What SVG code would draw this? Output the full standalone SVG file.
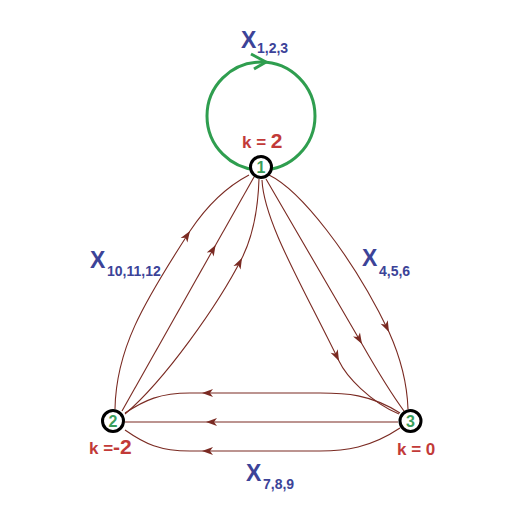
<svg xmlns="http://www.w3.org/2000/svg" xmlns:xlink="http://www.w3.org/1999/xlink" width="510" height="525" viewBox="0 0 510 525">
<style>
.e{fill:none;stroke:#7a2a22;stroke-width:1.1}
.ah{fill:#7a2a22}
.loop{fill:none;stroke:#2f9e4f;stroke-width:3}
.nd{fill:#fff;stroke:#000;stroke-width:3}
.nl{font-family:"Liberation Sans",Arial,sans-serif;font-weight:bold;font-size:16px;fill:#3a9d5a;text-anchor:middle}
.x{font-family:"Liberation Sans",Arial,sans-serif;font-weight:bold;fill:#3c4398}
.xb{font-size:23px}
.xs{font-size:14px}
.k{font-family:"Liberation Sans",Arial,sans-serif;font-weight:bold;fill:#c23a38;font-size:17px}
.kb{font-size:21px}
</style>
<defs>
<path id="ah" d="M0,0 L-11,-4 L-8,0 L-11,4 Z"/>
</defs>
<rect width="510" height="525" fill="#fff"/>
<g id="connectors">
<circle class="loop" cx="261" cy="116" r="54"/>
<polyline class="loop" points="251,54 266,62 254,69" stroke-linejoin="miter"/>
<path class="e" d="M115,409 C116,350 142,305 190,231 C206,207 226,187 249,175"/>
<path class="e" d="M122,411 L254,177"/>
<path class="e" d="M125,414 C165,380 218,305 242,258 C252,238 258,210 259,179"/>
<use href="#ah" class="ah" transform="translate(190,231) rotate(-57)"/>
<use href="#ah" class="ah" transform="translate(215.6,245) rotate(-60.6)"/>
<use href="#ah" class="ah" transform="translate(242,258) rotate(-63)"/>
<path class="e" d="M269,175 C300,190 352,255 389,332 C398,352 407,380 408,409"/>
<path class="e" d="M266,179 L362,344 C374,365 390,392 404,411"/>
<path class="e" d="M262,180 C264,222 302,285 339,361 C346,376 370,402 399,414"/>
<use href="#ah" class="ah" transform="translate(389,332) rotate(64)"/>
<use href="#ah" class="ah" transform="translate(362,344) rotate(60)"/>
<use href="#ah" class="ah" transform="translate(339,361) rotate(64)"/>
<path class="e" d="M400,413 C370,394 345,393 320,393 L190,393 C160,393 145,400 125,413"/>
<path class="e" d="M398,422 L125,422"/>
<path class="e" d="M400,428 C370,448 345,451 320,451 L190,451 C160,451 145,444 125,430"/>
<use href="#ah" class="ah" transform="translate(202,393) rotate(180)"/>
<use href="#ah" class="ah" transform="translate(206,422) rotate(180)"/>
<use href="#ah" class="ah" transform="translate(202,451) rotate(180)"/>
</g>
<g id="node1">
<circle class="nd" cx="261" cy="167" r="10.5"/>
<text class="nl" x="261" y="173">1</text>
<text class="k" x="242" y="148">k = <tspan class="kb">2</tspan></text>
</g>
<g id="node2">
<circle class="nd" cx="113" cy="421" r="10.5"/>
<text class="nl" x="113" y="427">2</text>
<text class="k" x="89" y="454">k =<tspan class="kb">-2</tspan></text>
</g>
<g id="node3">
<circle class="nd" cx="410.5" cy="421" r="10.5"/>
<text class="nl" x="410.5" y="427">3</text>
<text class="k" x="397" y="455">k = 0</text>
</g>
<g id="labels">
<text class="x"><tspan class="xb" x="241" y="48">X</tspan><tspan class="xs" x="257" y="53">1,2,3</tspan></text>
<text class="x"><tspan class="xb" x="90" y="268">X</tspan><tspan class="xs" x="107" y="276">10,11,12</tspan></text>
<text class="x"><tspan class="xb" x="362" y="266">X</tspan><tspan class="xs" x="379" y="276">4,5,6</tspan></text>
<text class="x"><tspan class="xb" x="246" y="481">X</tspan><tspan class="xs" x="263" y="489">7,8,9</tspan></text>
</g>
</svg>
